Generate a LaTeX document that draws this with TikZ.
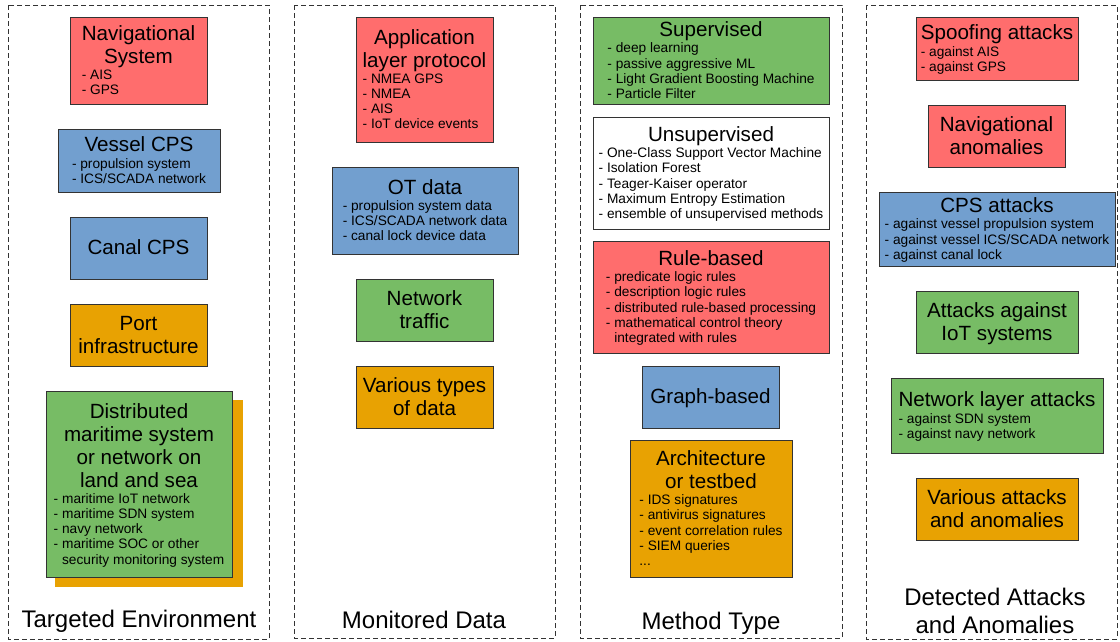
\documentclass[tikz,border=0pt]{standalone}
\usepackage{fontspec}
\setmainfont{Liberation Sans}
\definecolor{cred}{HTML}{FF6D6D}
\definecolor{cblue}{HTML}{729FCF}
\definecolor{cgreen}{HTML}{77BC65}
\definecolor{corange}{HTML}{E8A202}
\definecolor{cborder}{HTML}{333333}
\newcommand\tfnt{\fontsize{20.6}{23}\selectfont}
\newcommand\ifnt{\fontsize{13.7}{15}\selectfont}
\newcommand\Tl[1]{\multicolumn{1}{@{}c@{}}{\tfnt\rule[-5pt]{0pt}{23pt}#1}}
\newcommand\Il[1]{\ifnt\rule[-4pt]{0pt}{15.2pt}#1}
\newcommand\Bx[1]{\renewcommand\arraystretch{0}\begin{tabular}{@{}l@{}}#1\end{tabular}}
\begin{document}
\begin{tikzpicture}[x=1pt,y=-1pt,
  bx/.style={draw=cborder,line width=0.8pt,inner sep=0pt,rectangle},
  frame/.style={draw=cborder,line width=0.8pt,dash pattern=on 5pt off 3pt},
  lbl/.style={anchor=base,inner sep=0pt,font=\fontsize{24}{28}\selectfont}]
\useasboundingbox (0,0) rectangle (1120,641);
% frames
\draw[frame] (8,5) rectangle (269,639);
\draw[frame] (294,5) rectangle (555,638);
\draw[frame] (580,5) rectangle (842,638);
\draw[frame] (866,5) rectangle (1117,639);
% column 1
\node[bx,fill=cred,minimum width=137,minimum height=87] (nav) at (138.5,60.5)
 {\Bx{\Tl{Navigational}\\\Tl{System}\\\Il{- AIS}\\\Il{- GPS}}};
\node[bx,fill=cblue,minimum width=162,minimum height=63] (vessel) at (139,160.5)
 {\Bx{\Tl{Vessel CPS}\\\Il{- propulsion system}\\\Il{- ICS/SCADA network}}};
\node[bx,fill=cblue,minimum width=137,minimum height=62] (canal) at (138.5,248)
 {\Bx{\Tl{Canal CPS}}};
\node[bx,fill=corange,minimum width=137,minimum height=62] (port) at (138.5,335)
 {\Bx{\Tl{Port}\\\Tl{infrastructure}}};
\node[fill=corange,inner sep=0pt,minimum width=188,minimum height=187] (distsh) at (149,493.5) {};
\node[bx,fill=cgreen,minimum width=186,minimum height=186] (dist) at (139,484)
 {\Bx{\Tl{Distributed}\\\Tl{maritime system}\\\Tl{or network on}\\\Tl{land and sea}\\\Il{- maritime IoT network}\\\Il{- maritime SDN system}\\\Il{- navy network}\\\Il{- maritime SOC or other}\\\Il{\phantom{- }security monitoring system}}};
\node[lbl] (l1) at (139,627) {Targeted Environment};
% column 2
\node[bx,fill=cred,minimum width=137,minimum height=125] (app) at (424.5,79.5)
 {\Bx{\Tl{Application}\\\Tl{layer protocol}\\\Il{- NMEA GPS}\\\Il{- NMEA}\\\Il{- AIS}\\\Il{- IoT device events}}};
\node[bx,fill=cblue,minimum width=186,minimum height=87] (ot) at (425,210.5)
 {\Bx{\Tl{OT data}\\\Il{- propulsion system data}\\\Il{- ICS/SCADA network data}\\\Il{- canal lock device data}}};
\node[bx,fill=cgreen,minimum width=137,minimum height=62] (net) at (424.5,310)
 {\Bx{\Tl{Network}\\\Tl{traffic}}};
\node[bx,fill=corange,minimum width=137,minimum height=62] (vardata) at (424.5,397)
 {\Bx{\Tl{Various types}\\\Tl{of data}}};
\node[lbl] (l2) at (424,628) {Monitored Data};
% column 3
\node[bx,fill=cgreen,minimum width=236,minimum height=87] (sup) at (711,60.5)
 {\Bx{\Tl{Supervised}\\\Il{- deep learning}\\\Il{- passive aggressive ML}\\\Il{- Light Gradient Boosting Machine}\\\Il{- Particle Filter}}};
\node[bx,fill=white,minimum width=236,minimum height=112] (unsup) at (711,173)
 {\Bx{\Tl{Unsupervised}\\\Il{- One-Class Support Vector Machine}\\\Il{- Isolation Forest}\\\Il{- Teager-Kaiser operator}\\\Il{- Maximum Entropy Estimation}\\\Il{- ensemble of unsupervised methods}}};
\node[bx,fill=cred,minimum width=236,minimum height=112] (rule) at (711,297)
 {\Bx{\Tl{Rule-based}\\\Il{- predicate logic rules}\\\Il{- description logic rules}\\\Il{- distributed rule-based processing}\\\Il{- mathematical control theory}\\\Il{\phantom{- }integrated with rules}}};
\node[bx,fill=cblue,minimum width=137,minimum height=62] (graph) at (710.5,397)
 {\Bx{\Tl{Graph-based}}};
\node[bx,fill=corange,minimum width=162,minimum height=137] (arch) at (711,508.5)
 {\Bx{\Tl{Architecture}\\\Tl{or testbed}\\\Il{- IDS signatures}\\\Il{- antivirus signatures}\\\Il{- event correlation rules}\\\Il{- SIEM queries}\\\Il{...}}};
\node[lbl] (l3) at (711,629) {Method Type};
% column 4
\node[bx,fill=cred,minimum width=162,minimum height=63] (spoof) at (997,48.5)
 {\Bx{\Tl{Spoofing attacks}\\\Il{- against AIS}\\\Il{- against GPS}}};
\node[bx,fill=cred,minimum width=137,minimum height=62] (navan) at (996.5,136)
 {\Bx{\Tl{Navigational}\\\Tl{anomalies}}};
\node[bx,fill=cblue,minimum width=236,minimum height=74] (cps) at (997,229)
 {\Bx{\Tl{CPS attacks}\\\Il{- against vessel propulsion system}\\\Il{- against vessel ICS/SCADA network}\\\Il{- against canal lock}}};
\node[bx,fill=cgreen,minimum width=162,minimum height=62] (iot) at (997,322)
 {\Bx{\Tl{Attacks against}\\\Tl{IoT systems}}};
\node[bx,fill=cgreen,minimum width=212,minimum height=75] (netl) at (997,415.5)
 {\Bx{\Tl{Network layer attacks}\\\Il{- against SDN system}\\\Il{- against navy network}}};
\node[bx,fill=corange,minimum width=162,minimum height=62] (varatt) at (997,509)
 {\Bx{\Tl{Various attacks}\\\Tl{and anomalies}}};
\node[lbl] (l4a) at (995,605) {Detected Attacks};
\node[lbl] (l4b) at (995,633) {and Anomalies};
\end{tikzpicture}
\end{document}
